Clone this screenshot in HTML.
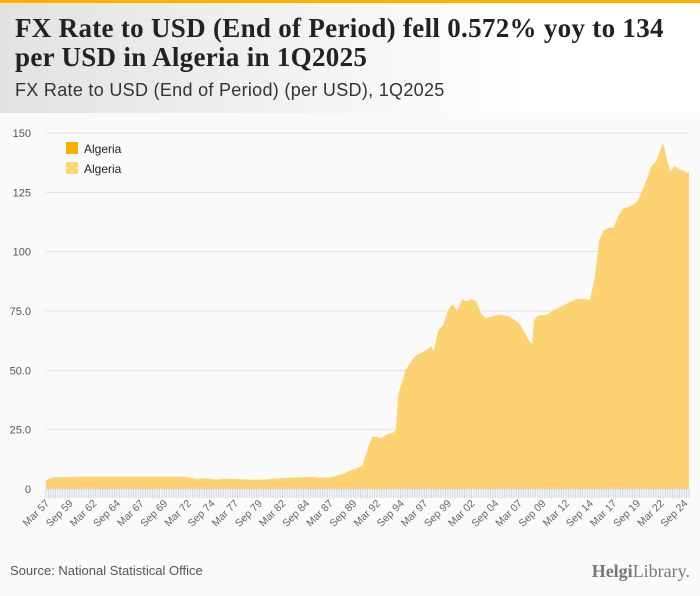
<!DOCTYPE html>
<html><head><meta charset="utf-8"><style>
body{margin:0;width:700px;height:596px;background:#fafafa;font-family:"Liberation Sans",sans-serif;overflow:hidden;position:relative}
#topbar{position:absolute;left:0;top:0;width:700px;height:3px;background:#f6b400}
#header{position:absolute;left:0;top:3px;width:700px;height:110px;background:linear-gradient(90deg,#e2e2e2,#ffffff 75%)}
#title{position:absolute;left:15px;top:14px;font-family:"Liberation Serif",serif;font-weight:bold;font-size:27px;line-height:29px;color:#222;letter-spacing:0.3px}
#subtitle{position:absolute;left:15px;top:80px;font-size:18px;color:#333;letter-spacing:0.3px}
#source{position:absolute;left:10px;top:563px;font-size:13px;color:#555}
#logo{position:absolute;right:10px;top:561px;font-family:"Liberation Serif",serif;font-size:18px;color:#777}
svg{position:absolute;left:0;top:0}
</style></head><body>
<div id="topbar"></div>
<div id="header"></div>
<div id="title">FX Rate to USD (End of Period) fell 0.572% yoy to 134<br>per USD in Algeria in 1Q2025</div>
<div id="subtitle">FX Rate to USD (End of Period) (per USD), 1Q2025</div>
<svg id="chart" width="700" height="596"></svg>
<div id="source">Source: National Statistical Office</div>
<div id="logo"><b>Helgi</b>Library.</div>
<script>
const dates=[1957,1957.5,1958,1959,1960,1965,1970,1971.75,1972.5,1973,1973.5,1974,1975,1976,1977,1978,1979,1980,1981,1982,1983,1984,1985,1986,1987,1988,1988.5,1989,1989.5,1990,1990.5,1991,1991.5,1992,1992.5,1993,1993.75,1994,1994.25,1994.5,1995,1995.5,1996,1997,1997.75,1998,1998.5,1999,1999.5,2000,2000.5,2001,2001.5,2002,2002.5,2003,2003.5,2004,2005,2006,2007,2007.5,2008,2008.4,2008.6,2009,2010,2010.5,2011,2012,2012.5,2013,2014,2014.5,2015,2015.5,2016,2016.5,2017,2017.5,2018,2019,2019.5,2020,2020.5,2021,2021.5,2022,2022.25,2022.75,2023,2023.5,2024,2024.5,2024.75,2025];
const values=[3.8,4.5,5.0,5.0,5.2,5.2,5.2,5.2,4.6,4.2,4.6,4.4,4.0,4.3,4.2,4.0,3.9,4.0,4.3,4.6,4.8,5.0,5.2,4.8,4.9,5.9,6.5,7.5,8.2,8.9,10,17,22,22,21.4,23,23.8,25,40,43,50,53,56,58,60,58,67,69,75,78,75,80,79,80,79,74,72,72.6,73.5,72.7,70,67,63,61,71,73,73.5,75,76,78,79,80,80,79.5,88,105,109,110,110,115,118,119.5,121,125,130,136,138,143,146,138,134,136,134.5,134,133,134];
const yTicks=[0,25,50,75,100,125,150];
const yTickLabels=["0","25.0","50.0","75.0","100","125","150"];
const xTickLabels=["Mar 57","Sep 59","Mar 62","Sep 64","Mar 67","Sep 69","Mar 72","Sep 74","Mar 77","Sep 79","Mar 82","Sep 84","Mar 87","Sep 89","Mar 92","Sep 94","Mar 97","Sep 99","Mar 02","Sep 04","Mar 07","Sep 09","Mar 12","Sep 14","Mar 17","Sep 19","Mar 22","Sep 24"];
const xTickDates=[1957,1959.5,1962,1964.5,1967,1969.5,1972,1974.5,1977,1979.5,1982,1984.5,1987,1989.5,1992,1994.5,1997,1999.5,2002,2004.5,2007,2009.5,2012,2014.5,2017,2019.5,2022,2024.5];
const X0=46,X1=689,T0=1957,T1=2025,Y0=489,Y1=133,V1=150;
const xs=t=>X0+(t-T0)/(T1-T0)*(X1-X0);
const ys=v=>Y0-v/V1*(Y0-Y1);
const svg=document.getElementById('chart');
const NS='http://www.w3.org/2000/svg';
function mk(tag,attrs){const e=document.createElementNS(NS,tag);for(const k in attrs)e.setAttribute(k,attrs[k]);svg.appendChild(e);return e;}
yTicks.forEach((v,i)=>{
  const g=mk('line',{x1:X0,x2:X1,y1:ys(v),y2:ys(v),stroke:'#e2e2e2','stroke-width':1});
  
  
  const t=mk('text',{x:31,y:ys(v)+4,'text-anchor':'end','font-size':11,fill:'#555'});
  t.textContent=yTickLabels[i];
  
  
});
let d='M'+xs(dates[0])+','+Y0;
dates.forEach((t,i)=>{d+=' L'+xs(t).toFixed(1)+','+ys(values[i]).toFixed(1);});
d+=' L'+xs(dates[dates.length-1])+','+Y0+' Z';
const area=mk('path',{d:d,fill:'#fdd371'});


for(let t=T0;t<=T1+0.001;t+=0.25){
  const l=mk('line',{x1:xs(t),x2:xs(t),y1:Y0,y2:Y0+9,stroke:'#c5d3ee','stroke-width':1});
  
  
}
xTickLabels.forEach((s,i)=>{
  const x=xs(xTickDates[i])+4,y=Y0+15;
  const t=mk('text',{x:x,y:y,'text-anchor':'end','font-size':10.5,fill:'#666',transform:`rotate(-45 ${x} ${y})`});
  t.textContent=s;
  
  
});
[['#f8b000',148],['#fdd67a',168]].forEach(([c,y])=>{
  const r=mk('rect',{x:66,y:y-6,width:12,height:12,fill:c});
  
  
  const t=mk('text',{x:84,y:y+5,'font-size':12,fill:'#222'});
  t.textContent='Algeria';
  
  
});
</script>
</body></html>
